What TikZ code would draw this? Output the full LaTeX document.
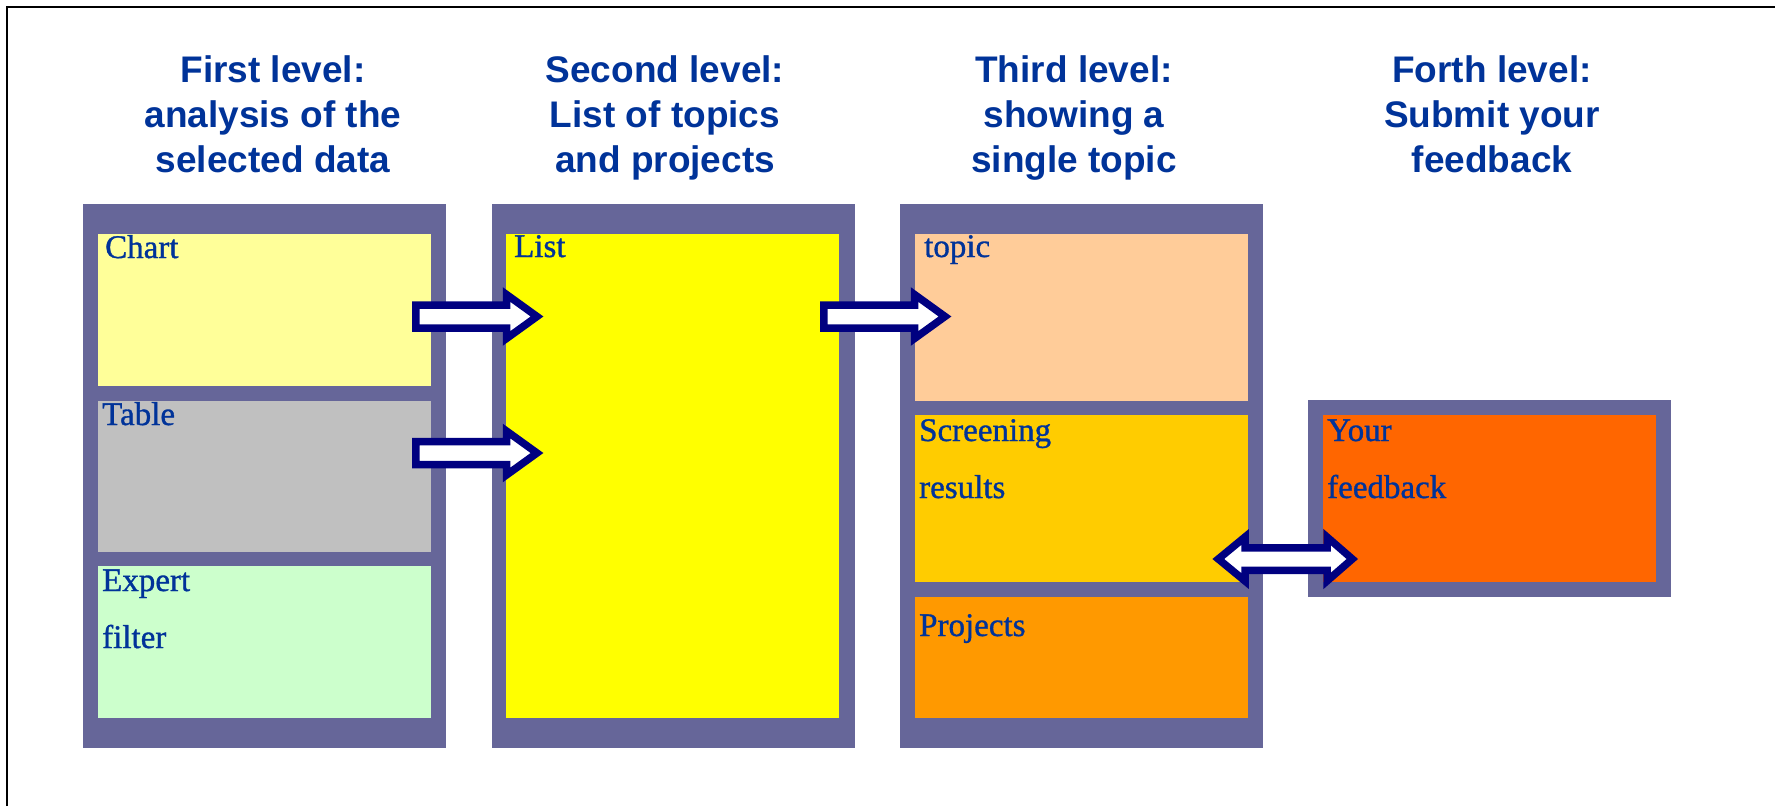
\documentclass[tikz,border=0pt]{standalone}
\usepackage{fontspec}
\setmainfont{Liberation Serif}
\newfontfamily\headfont{Liberation Sans}
\newfontfamily\cellfont[FakeBold=1]{Liberation Serif}
\usetikzlibrary{calc}

\definecolor{panelgray}{HTML}{666699}
\definecolor{chartfill}{HTML}{FFFF99}
\definecolor{tablefill}{HTML}{C0C0C0}
\definecolor{expertfill}{HTML}{CCFFCC}
\definecolor{listfill}{HTML}{FFFF00}
\definecolor{topicfill}{HTML}{FFCC99}
\definecolor{screenfill}{HTML}{FFCC00}
\definecolor{projfill}{HTML}{FF9900}
\definecolor{feedfill}{HTML}{FF6600}
\definecolor{textblue}{HTML}{003399}
\definecolor{arrownavy}{HTML}{000080}

\tikzset{
  panelbox/.style={fill=panelgray, draw=none, inner sep=0, outer sep=0, anchor=north west},
  cell/.style={draw=none, inner sep=0, outer sep=0, anchor=north west},
  heading/.style={text=textblue, align=center, inner sep=0, anchor=base,
    font=\headfont\bfseries\fontsize{37}{45}\selectfont},
  celltext/.style={text=textblue, align=left, inner sep=0, anchor=base west,
    font=\cellfont\fontsize{33}{57}\selectfont},
  blockarrow/.style={draw=arrownavy, fill=white, line width=7.5, miter limit=10}
}

% right-pointing block arrow from tail #1 to tip #2 (same height)
\newcommand\rightblock[2]{%
  \draw[blockarrow] ($(#1)+(0,-11.5)$) -- ($(#2)+(-30.5,-11.5)$) -- ($(#2)+(-30.5,-22)$)
    -- (#2) -- ($(#2)+(-30.5,22)$) -- ($(#2)+(-30.5,11.5)$) -- ($(#1)+(0,11.5)$) -- cycle;}

\begin{document}
\begin{tikzpicture}[x=1pt,y=-1pt]
\useasboundingbox (0,0) rectangle (1775,806);
\fill[white] (0,0) rectangle (1775,806);

% page frame (top and left edges)
\draw[line width=2] (7,806) |- (1775,7);

% headings (anchored on the baseline of their last line)
\node[heading] (h1) at (273,172) {First level:\\analysis of the\\selected data};
\node[heading] (h2) at (665,172) {Second level:\\List of topics\\and projects};
\node[heading] (h3) at (1074,172) {Third level:\\showing a\\single topic};
\node[heading] (h4) at (1492,172) {Forth level:\\Submit your\\feedback};

% panels
\node[panelbox, minimum width=363, minimum height=544] (p1) at (83,204) {};
\node[panelbox, minimum width=363, minimum height=544] (p2) at (492,204) {};
\node[panelbox, minimum width=363, minimum height=544] (p3) at (900,204) {};
\node[panelbox, minimum width=363, minimum height=197] (p4) at (1308,400) {};

% first level
\node[cell, fill=chartfill,  minimum width=333, minimum height=151.5] (chart)  at (98,234) {};
\node[cell, fill=tablefill,  minimum width=333, minimum height=151]   (table)  at (98,401) {};
\node[cell, fill=expertfill, minimum width=333, minimum height=152]   (expert) at (98,566) {};
% second level
\node[cell, fill=listfill,   minimum width=333, minimum height=484]   (list)   at (506,234) {};
% third level
\node[cell, fill=topicfill,  minimum width=333, minimum height=167]   (topic)  at (915,234) {};
\node[cell, fill=screenfill, minimum width=333, minimum height=167]   (screen) at (915,415) {};
\node[cell, fill=projfill,   minimum width=333, minimum height=121]   (proj)   at (915,597) {};
% fourth level
\node[cell, fill=feedfill,   minimum width=333, minimum height=167]   (feed)   at (1323,415) {};

% cell captions (anchored on the baseline of their last line)
\node[celltext] (lchart)  at (105,258) {Chart};
\node[celltext] (ltable)  at (102,425) {Table};
\node[celltext] (lexpert) at (102,648) {Expert\\filter};
\node[celltext] (llist)   at (514,257) {List};
\node[celltext] (ltopic)  at (924,257) {topic};
\node[celltext] (lscreen) at (919,498) {Screening\\results};
\node[celltext] (lproj)   at (919,636) {Projects};
\node[celltext] (lfeed)   at (1327,498) {Your\\feedback};

% arrow end points
\coordinate (a1s) at ($(chart.east)+(-15.25,0)$);
\coordinate (a1t) at ($(list.west)+(31,0)$);
\coordinate (a2s) at ($(table.east)+(-15.25,0)$);
\coordinate (a2t) at ($(list.west)+(31,0)$);
\coordinate (a3s) at ($(list.east)+(-15.25,0)$);
\coordinate (a3t) at ($(topic.west)+(30,0)$);

\rightblock{a1s |- 0,316.5}{a1t |- 0,316.5}
\rightblock{a2s |- 0,453}{a2t |- 0,453}
\rightblock{a3s |- 0,316.5}{a3t |- 0,316.5}

% two-way arrow between the screening results and the feedback box
\coordinate (dl) at ($(screen.east)+(-29.7,0)$);
\coordinate (dr) at ($(feed.west)+(29.3,0)$);
\draw[blockarrow] (dl |- 0,559) -- ++(26.7,-22) -- ++(0,10.75) -- ++(82,0) -- ++(0,-10.75)
  -- (dr |- 0,559) -- ++(-25.3,22) -- ++(0,-10.75) -- ++(-82,0) -- ++(0,10.75) -- cycle;
\end{tikzpicture}
\end{document}
